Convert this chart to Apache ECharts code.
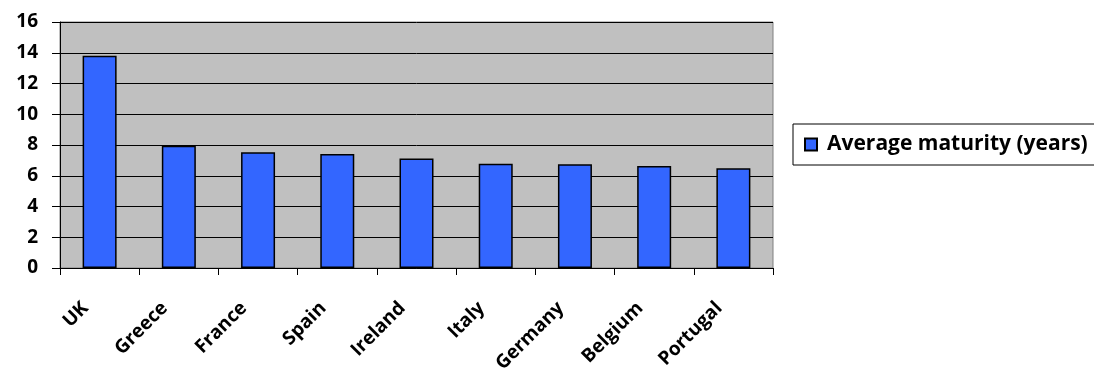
<!DOCTYPE html>
<html>
<head>
<meta charset="utf-8">
<script src="https://cdn.jsdelivr.net/npm/echarts@6/dist/echarts.min.js"></script>
<style>
  html, body { margin: 0; padding: 0; background: #ffffff; overflow: hidden; }
  #chart { width: 1094px; height: 374px; }
</style>
</head>
<body>
<div id="chart"></div>
<script>
// Countries, ordered by average debt maturity
const categories = ['UK', 'Greece', 'France', 'Spain', 'Ireland', 'Italy', 'Germany', 'Belgium', 'Portugal'];
// Average maturity of government debt, in years
const maturityYears = [13.8, 7.95, 7.53, 7.42, 7.13, 6.78, 6.75, 6.63, 6.48];
const seriesName = 'Average maturity (years)';
const yTicks = { min: 0, max: 16, step: 2 };

const FONT = '"Open Sans", "DejaVu Sans", sans-serif';

const chart = echarts.init(document.getElementById('chart'), null, { renderer: 'canvas' });
chart.setOption({
  animation: false,
  backgroundColor: '#ffffff',
  grid: {
    left: 60, top: 22, right: 321, bottom: 106,
    containLabel: false,
    outerBoundsMode: 'none',
    show: true,
    backgroundColor: '#C0C0C0',
    borderColor: '#808080',
    borderWidth: 1
  },
  legend: {
    data: [seriesName],
    left: 793, top: 124,
    orient: 'vertical',
    backgroundColor: '#ffffff',
    borderColor: '#000000',
    borderWidth: 1,
    borderRadius: 0,
    padding: [10, 24, 10, 11],
    itemWidth: 12, itemHeight: 12,
    icon: 'rect',
    textStyle: { fontFamily: FONT, fontWeight: 'bold', fontSize: 21, color: '#000', padding: [0, 0, 0, 5] }
  },
  xAxis: {
    type: 'category',
    data: categories,
    axisLine: { lineStyle: { color: '#000', width: 1 } },
    axisTick: { show: true, length: 7, lineStyle: { color: '#000', width: 1 } },
    axisLabel: {
      rotate: 45, margin: 23, interval: 0,
      padding: [0, 20, 0, 0],
      fontFamily: FONT, fontWeight: 'bold', fontSize: 19, color: '#000'
    },
    splitLine: { show: false }
  },
  yAxis: {
    type: 'value',
    min: yTicks.min, max: yTicks.max, interval: yTicks.step,
    axisLine: { show: true, lineStyle: { color: '#000', width: 1 } },
    axisTick: { show: true, length: 8, lineStyle: { color: '#000', width: 1 } },
    axisLabel: { margin: 22, fontFamily: FONT, fontWeight: 'bold', fontSize: 19, color: '#000' },
    splitLine: { show: true, lineStyle: { color: '#000', width: 1 } }
  },
  series: [{
    name: seriesName,
    type: 'bar',
    data: maturityYears,
    barWidth: 34,
    itemStyle: { color: '#3366FF', borderColor: '#000000', borderWidth: 1.5 }
  }]
});
</script>
</body>
</html>
